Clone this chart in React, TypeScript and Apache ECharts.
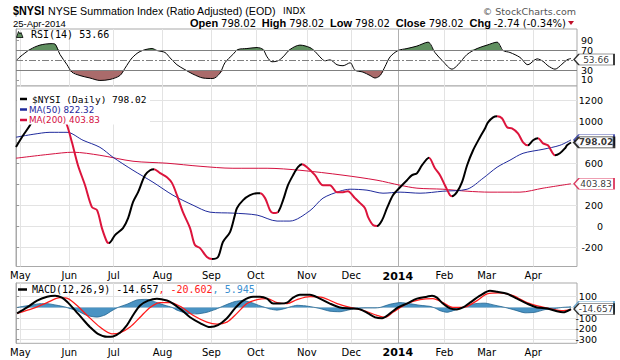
import React, { useEffect, useRef } from "react";
import * as echarts from "echarts";

// ---------- data (x = trading-day index from 29-Apr-2013) ----------
const monthDays = [2, 24, 44, 66, 88, 108, 131, 151, 172, 193, 212, 233];
const monthNames = ["May", "Jun", "Jul", "Aug", "Sep", "Oct", "Nov", "Dec", "2014", "Feb", "Mar", "Apr"];

const nysi: [number, number][] = [
  [0, 755], [3, 860], [6.3, 962], [8, 1040], [11, 1150], [15, 1250], [19, 1180], [23, 962], [25.2, 800],
  [27.9, 581], [31.1, 390], [34.2, 181], [36.5, 152], [38.7, -19], [41, -152], [41.9, -162], [44.6, -86],
  [48.2, -19], [50.5, 76], [52.7, 229], [55, 324], [58.1, 486], [60.4, 533], [62.2, 543], [64.9, 505],
  [68, 467], [70.3, 410], [72.5, 295], [75.2, 133], [78.4, -19], [80.6, -181], [82.9, -210], [86, -295],
  [88.3, -314], [91, -295], [93.2, -152], [96.4, -57], [98.6, 105], [99.5, 171], [102.3, 248], [105.4, 295],
  [108.6, 314], [109.9, 314], [112.2, 267], [114.4, 152], [115.8, 124], [118, 133], [120.3, 248],
  [122.5, 390], [124.8, 486], [127, 562], [128.8, 590], [131.1, 562], [134.7, 486], [138.3, 390],
  [141.4, 390], [144.6, 324], [147.3, 324], [149.5, 333], [152.7, 267], [155, 219], [157.2, 171],
  [158.6, 86], [160.8, 10], [162.6, 0], [164.9, 57], [167.1, 171], [169.8, 295], [173, 371], [176.1, 438],
  [178.4, 486], [180.6, 505], [182.9, 581], [186, 652], [188.7, 552], [191, 486], [193.2, 390],
  [195.5, 295], [196.4, 286], [198.6, 324], [200.9, 419], [203.2, 581], [205.9, 724], [209, 848],
  [211.3, 933], [212.6, 990], [214.9, 1038], [216.7, 1048], [218.9, 1029], [221.2, 943], [223.4, 933],
  [226.1, 886], [228.4, 800], [230.6, 771], [232.9, 819], [235.1, 838], [237.4, 790], [239.6, 771],
  [242.8, 676], [245, 695], [247.3, 743], [248.2, 771], [250, 798.02],
];
// day positions where the NYSI line changes direction (rising = black, falling = red)
const nysiTurns = [0, 17, 41.9, 62.2, 88.3, 109.9, 118, 128.8, 162.6, 186, 196.4, 216.7, 230.6, 235.1, 242.8, 260];

const ma50: [number, number][] = [
  [0, 848], [7.7, 876], [15.3, 895], [23, 895], [30.2, 819], [37.8, 752], [43.7, 657], [52.7, 533],
  [61.7, 419], [70.7, 295], [79.7, 200], [87.4, 133], [97.7, 124], [108.6, 105], [117.6, 48], [123.4, 48],
  [132.4, 147], [138.3, 267], [145.9, 333], [150.5, 352], [158.1, 343], [165.3, 314], [173, 324],
  [182, 314], [192.3, 333], [203.2, 352], [210.4, 457], [216.7, 562], [222.5, 629], [228.4, 695],
  [237.4, 733], [245, 771], [250, 822.32],
];

const ma200: [number, number][] = [
  [0, 648], [15.3, 686], [25.7, 705], [37.8, 676], [52.7, 619], [68, 600], [82.9, 571], [97.7, 552],
  [113.1, 552], [127.9, 533], [147.3, 486], [162.6, 438], [173, 390], [180.6, 362], [192.3, 352],
  [203.2, 333], [213.5, 324], [227, 324], [237.4, 362], [250, 403.83],
];

const rsi: [number, number][] = [
  [0.5, 51], [1.8, 57], [6.3, 72], [10.8, 81], [16.2, 84], [17.6, 83], [19.8, 62], [23, 41], [25.2, 26],
  [28.8, 19], [33.3, 14], [37.8, 9], [42.3, 11], [46.8, 19], [49.1, 34], [52.3, 55], [55.9, 68], [61.3, 74],
  [63.5, 70], [67.1, 66], [69.4, 55], [72.5, 41], [76.1, 31], [79.7, 22], [84.2, 14], [88.7, 13], [91.9, 24],
  [94.1, 45], [97.7, 62], [100, 72], [104, 74], [108.6, 76], [111.3, 72], [113.1, 57], [115.3, 47],
  [118, 49], [120.3, 57], [123.4, 72], [127.9, 81], [132.4, 76], [134.7, 68], [136.9, 57], [139.2, 49],
  [141.4, 51], [144.6, 41], [147.3, 39], [150.5, 45], [152.7, 30], [156.3, 26], [159.5, 19], [161.7, 14],
  [164, 19], [166.2, 37], [168.5, 57], [172.1, 70], [176.1, 74], [180.6, 79], [185.6, 87], [188.7, 66],
  [192.3, 48], [196.4, 32], [199.1, 41], [203.2, 62], [207.7, 74], [212.2, 81], [216.7, 87], [219.4, 70],
  [222.5, 66], [227, 56], [230.6, 41], [234.7, 53], [237.4, 48], [239.6, 39], [242.8, 32], [245.9, 42],
  [248.2, 51], [250, 53.66],
];

const macd: [number, number][] = [
  [0.5, -55], [5, 0], [9.5, 64], [14, 100], [17.6, 109], [20.7, 91], [23.4, 45], [26.6, -27], [29.7, -100],
  [33.3, -182], [36.9, -245], [41, -273], [43.7, -270], [46.8, -236], [50, -164], [52.7, -73], [55.9, 18],
  [59.5, 64], [63.5, 82], [68, 64], [70.7, 36], [74.8, -27], [78.4, -91], [82.9, -145], [87.4, -182],
  [91, -164], [95, -100], [98.6, -9], [102.3, 64], [106.8, 100], [109.9, 100], [113.1, 82], [115.8, 36],
  [118.9, 36], [122.1, 45], [124.8, 91], [127.9, 118], [132.4, 118], [136.9, 82], [141.4, 36], [145.9, 0],
  [150.5, -9], [155, -18], [158.6, -55], [161.7, -91], [164.9, -100], [168.5, -55], [172.1, 0], [176.1, 36],
  [180.6, 82], [185.1, 100], [187.4, 109], [189.6, 91], [192.3, 36], [195.5, -9], [198.6, -18], [201.4, 0],
  [204.5, 45], [209, 109], [213.5, 155], [216.7, 145], [221.2, 127], [225.7, 82], [230.2, 36], [234.7, 0],
  [239.2, -9], [243.7, -36], [246.4, -45], [250, -14.657],
];

const signal: [number, number][] = [
  [0.5, -55], [7.7, -9], [14, 45], [19.8, 91], [23.4, 82], [27.5, 18], [32, -73], [37.8, -182], [43.2, -245],
  [46.8, -236], [51.4, -182], [55.9, -91], [60.4, 0], [64.9, 45], [69.4, 45], [74.8, 0], [79.7, -73],
  [86, -136], [90.5, -155], [95, -136], [99.5, -55], [104, 36], [108.6, 73], [113.1, 82], [117.6, 45],
  [122.1, 36], [126.6, 73], [132.4, 100], [138.3, 91], [144.6, 36], [150.5, 0], [156.3, -27], [162.6, -73],
  [166.2, -91], [169.8, -45], [176.1, 36], [182, 73], [187.8, 82], [192.3, 45], [196.8, 0], [201.4, 0],
  [207.7, 64], [212.2, 127], [218, 136], [223.9, 109], [230.2, 45], [236, 9], [241.9, -18], [245.9, -30],
  [250, -20.602],
];

const hist: [number, number][] = [
  [0.5, 0], [1.8, 5], [7.7, 25], [10.8, 35], [14, 35], [18.5, 20], [22, 5], [24.3, -10], [27.5, -30], [32, -75],
  [36.5, -90], [40.1, -70], [43.2, -30], [45.9, 0], [50, 30], [54.5, 70], [59, 75], [63.5, 45], [67.1, 20],
  [70.3, 0], [72.5, -25], [77, -55], [81.5, -60], [86, -45], [89.6, -20], [91.9, 0], [94.1, 20], [98.6, 55],
  [102.3, 65], [106.8, 40], [109.9, 15], [112.2, 0], [114.4, -15], [117.6, -25], [121.2, -10], [123.4, 5],
  [126.6, 20], [130.2, 15], [133.3, 5], [136.9, -10], [141.4, -35], [145.9, -40], [150.5, -20], [153.6, -10],
  [157.2, -5], [161.7, -5], [164, 0], [168.5, 30], [173, 45], [177.5, 35], [182, 20], [186.5, 10],
  [188.7, -5], [191, -30], [194.1, -45], [197.7, -25], [200.9, 0], [202.3, 10], [206.8, 35], [211.3, 40],
  [215.8, 20], [220.3, 0], [224.8, -25], [229.3, -50], [233.8, -45], [238.3, -20], [242.8, -10],
  [245.9, 0], [250, 5.945],
];

const quote = { date: "25-Apr-2014", open: 798.02, high: 798.02, low: 798.02, close: 798.02, chg: -2.74, chgPct: -0.34 };

const rsiTicks = [10, 30, 50, 70, 90];
const rsiLabels = [10, 30, 70, 90];
const mainTicks = [-200, 0, 200, 400, 600, 800, 1000, 1200];
const mainLabels = [-200, 0, 200, 600, 1000, 1200];
const macdTicks = [-300, -200, -100, 0, 100];
const macdLabels = [-300, -200, -100, 100];

// ---------- styling ----------
const SANS = '"DejaVu Sans", Verdana, sans-serif';
const MONO = '"DejaVu Sans Mono", monospace';
const ARIAL = '"Liberation Sans", Arial, sans-serif';
const C_RED = "#dc143c";
const C_MA50 = "#1f2a9c";
const C_MA200 = "#d4103f";
const C_SIG = "#ff1a1a";
const C_HIST = "#4a93c3";
const GRID_C = "#e3e3e3";
const BORDER_C = "#a9a9a9";
const TAG = "path://M0,6 L5,0 L40,0 L40,12 L5,12 Z";

const last = (a: [number, number][]) => a[a.length - 1];

export default function App() {
  const ref = useRef<HTMLDivElement>(null);

  useEffect(() => {
    const chart = echarts.init(ref.current!, null, { renderer: "svg" });

    const X0 = 0, X1 = 252.7;
    const splitColors = monthDays.map((_, i) => (monthNames[i] === "2014" ? "#b0b0b0" : GRID_C));
    const grids = [
      { left: 16, top: 29, width: 561, height: 57 },
      { left: 16, top: 86, width: 561, height: 180.5 },
      { left: 16, top: 283, width: 561, height: 60.3 },
    ].map((g) => ({ ...g, show: true, borderColor: BORDER_C, borderWidth: 1, backgroundColor: "#fff" }));

    const xAxis = [0, 1, 2].map((i) => ({
      type: "value",
      gridIndex: i,
      min: X0,
      max: X1,
      axisLine: { show: false },
      axisTick: { show: false, customValues: monthDays },
      axisLabel: {
        show: i > 0,
        customValues: monthDays,
        margin: 4,
        color: "#000",
        fontFamily: SANS,
        fontSize: 10,
        formatter: (v: number) => {
          const n = monthNames[monthDays.indexOf(v)] ?? "";
          return n === "2014" ? "{b|2014}" : n;
        },
        rich: { b: { fontWeight: "bold", fontFamily: SANS, fontSize: 11, color: "#000" } },
      },
      splitLine: { show: true, lineStyle: { color: splitColors, width: 1 } },
    }));

    const yAxisBase = (i: number, min: number, max: number, ticks: number[], labels: number[], margin: number, split: boolean) => ({
      type: "value",
      gridIndex: i,
      position: "right",
      min,
      max,
      axisLine: { show: true, lineStyle: { color: BORDER_C } },
      axisTick: { show: true, length: 3, customValues: ticks, lineStyle: { color: "#999" } },
      axisLabel: {
        customValues: labels, align: "right", margin, color: "#000", fontFamily: SANS, fontSize: 9.5, lineHeight: 9,
        formatter: (v: number) => String(v),
      },
      splitLine: { show: split, lineStyle: { color: GRID_C } },
    });

    const yAxis = [
      yAxisBase(0, -2.3, 113.8, rsiTicks, rsiLabels, 16, false),
      yAxisBase(1, -385.5, 1337, mainTicks, mainLabels, 26, true),
      yAxisBase(2, -333.5, 227.4, macdTicks, macdLabels, 20, true),
    ];

    const lineBase = { type: "line", showSymbol: false, symbol: "none", silent: true, smooth: 0.3 };
    const hidden = { lineStyle: { opacity: 0, width: 0 } };

    const dec = (v: number) => (String(v).split(".")[1]?.length === 3 ? 3 : 2);
    const tag = (p: [number, number], border: string, showText = true, bold = false, bw = 1, dy = 0) => ({
      value: p,
      symbol: TAG,
      symbolSize: [40, 11],
      symbolOffset: [23, dy],
      itemStyle: { color: "#fff", borderColor: border, borderWidth: bw },
      label: {
        show: showText,
        position: "inside",
        offset: [2, 0],
        formatter: p[1].toFixed(dec(p[1])),
        color: "#000",
        fontFamily: SANS,
        fontSize: 9,
        lineHeight: 9,
        fontWeight: bold ? "bold" : "normal",
      },
    });

    const pieces = nysiTurns.slice(0, -1).map((t, i) => ({
      gte: t,
      lt: nysiTurns[i + 1],
      color: i % 2 === 0 ? "#000000" : C_RED,
    }));

    const NYSI_IDX = 5;
    const series: any[] = [
      // RSI fills: above 70 and below 30
      {
        ...lineBase, ...hidden, xAxisIndex: 0, yAxisIndex: 0,
        areaStyle: { color: "#5f8f5f", opacity: 1, origin: 70 },
        data: rsi.map(([d, v]) => [d, Math.max(v, 70)]),
      },
      {
        ...lineBase, ...hidden, xAxisIndex: 0, yAxisIndex: 0,
        areaStyle: { color: "#aa6b6b", opacity: 1, origin: 30 },
        data: rsi.map(([d, v]) => [d, Math.min(v, 30)]),
      },
      // RSI line
      {
        ...lineBase, xAxisIndex: 0, yAxisIndex: 0, data: rsi,
        lineStyle: { color: "#000", width: 1 },
        markLine: {
          silent: true, symbol: "none", label: { show: false },
          data: [
            { yAxis: 70, lineStyle: { color: "#808080", width: 1, type: "solid" } },
            { yAxis: 30, lineStyle: { color: "#808080", width: 1, type: "solid" } },
            { yAxis: 50, lineStyle: { color: "#808080", width: 1, type: [7, 2, 2, 2] } },
          ],
        },
        z: 3,
      },
      // main panel
      { ...lineBase, xAxisIndex: 1, yAxisIndex: 1, data: ma200, lineStyle: { color: C_MA200, width: 1 } },
      { ...lineBase, xAxisIndex: 1, yAxisIndex: 1, data: ma50, lineStyle: { color: C_MA50, width: 1 } },
      { ...lineBase, xAxisIndex: 1, yAxisIndex: 1, data: nysi, lineStyle: { width: 2 }, z: 4 },
      // MACD panel
      {
        ...lineBase, xAxisIndex: 2, yAxisIndex: 2, data: hist, smooth: 0.2,
        lineStyle: { color: "#21638f", width: 0.8 },
        areaStyle: { color: C_HIST, opacity: 1 },
      },
      { ...lineBase, xAxisIndex: 2, yAxisIndex: 2, data: signal, lineStyle: { color: C_SIG, width: 1.3 } },
      { ...lineBase, xAxisIndex: 2, yAxisIndex: 2, data: macd, lineStyle: { color: "#000", width: 2 } },
      // value tags
      {
        type: "scatter", xAxisIndex: 0, yAxisIndex: 0, clip: false, silent: true, z: 10,
        data: [tag(last(rsi), "#000", true, false, 1, 1)],
      },
      {
        type: "scatter", xAxisIndex: 1, yAxisIndex: 1, clip: false, silent: true, z: 10,
        data: [tag(last(ma50), C_MA50, false), tag(last(ma200), C_MA200), tag(last(nysi), "#000", true, true, 1.4)],
      },
      {
        type: "scatter", xAxisIndex: 2, yAxisIndex: 2, clip: false, silent: true, z: 10,
        data: [tag(last(hist), C_HIST, false), tag(last(macd), "#000")],
      },
    ];

    const f2 = (n: number) => n.toFixed(2);
    const headerRow =
      `{b|Open} {n|${f2(quote.open)}}  {b|High} {n|${f2(quote.high)}}  {b|Low} {n|${f2(quote.low)}}  ` +
      `{b|Close} {n|${f2(quote.close)}}  {b|Chg} {n|${f2(quote.chg)} (${f2(quote.chgPct)}%)}`;

    const graphic: any[] = [
      { type: "text", x: 13, y: 10.5, scaleX: 0.8, z: 100, style: { text: "$NYSI", font: `bold 13.5px ${ARIAL}`, fill: "#000", verticalAlign: "middle" } },
      { type: "text", x: 48, y: 10.5, z: 100, style: { text: "NYSE Summation Index (Ratio Adjusted) (EOD)", font: `10.7px ${ARIAL}`, fill: "#000", verticalAlign: "middle" } },
      { type: "text", x: 283, y: 10.5, z: 100, style: { text: "INDX", font: `9px ${SANS}`, fill: "#000", verticalAlign: "middle" } },
      { type: "text", x: 576, y: 11, z: 100, style: { text: "© StockCharts.com", font: `9.5px ${SANS}`, fill: "#555", align: "right", verticalAlign: "middle" } },
      { type: "text", x: 13, y: 23, z: 100, style: { text: quote.date, font: `9.5px ${ARIAL}`, fill: "#000", verticalAlign: "middle" } },
      {
        type: "text", x: 566, y: 23, z: 100,
        style: {
          text: headerRow, font: `10.5px ${ARIAL}`, fill: "#000", align: "right", verticalAlign: "middle",
          rich: { b: { font: `bold 11px ${ARIAL}`, fill: "#000" }, n: { font: `10px ${SANS}`, fill: "#000" } },
        },
      },
      { type: "polygon", z: 100, shape: { points: [[568, 21], [574, 21], [571, 25]] }, style: { fill: "#c0102a" } },
      // RSI legend
      { type: "polygon", z: 100, shape: { points: [[16.5, 37.5], [18.5, 31.5], [20, 34], [21, 32.5], [23, 37.5]] }, style: { fill: "#5f8f5f", stroke: "#000", lineWidth: 0.8 } },
      { type: "text", x: 31, y: 34.5, z: 100, style: { text: `RSI(14) ${f2(last(rsi)[1])}`, font: `10px ${MONO}`, fill: "#000", verticalAlign: "middle" } },
      // main legend
      { type: "rect", z: 90, shape: { x: 17, y: 87, width: 133, height: 37.5 }, style: { fill: "#fff" } },
      { type: "line", z: 100, shape: { x1: 20, y1: 99, x2: 27, y2: 99 }, style: { stroke: "#000", lineWidth: 2.5 } },
      { type: "text", x: 32, y: 99, z: 100, style: { text: `$NYSI (Daily) ${f2(last(nysi)[1])}`, font: `9.5px ${MONO}`, fill: "#000", verticalAlign: "middle" } },
      { type: "line", z: 100, shape: { x1: 20, y1: 109.5, x2: 27, y2: 109.5 }, style: { stroke: C_MA50, lineWidth: 2.5 } },
      { type: "text", x: 29, y: 109.5, z: 100, style: { text: `MA(50) ${f2(last(ma50)[1])}`, font: `8.8px ${SANS}`, fill: C_MA50, verticalAlign: "middle" } },
      { type: "line", z: 100, shape: { x1: 20, y1: 120, x2: 27, y2: 120 }, style: { stroke: C_MA200, lineWidth: 2.5 } },
      { type: "text", x: 29, y: 120, z: 100, style: { text: `MA(200) ${f2(last(ma200)[1])}`, font: `8.8px ${SANS}`, fill: C_MA200, verticalAlign: "middle" } },
      // MACD legend
      { type: "line", z: 100, shape: { x1: 18, y1: 289.5, x2: 27, y2: 289.5 }, style: { stroke: "#000", lineWidth: 2.5 } },
      {
        type: "text", x: 32, y: 289.5, z: 100,
        style: {
          text: `{k|MACD(12,26,9) ${last(macd)[1].toFixed(3)}}{r|, ${last(signal)[1].toFixed(3)}}{bl|, ${last(hist)[1].toFixed(3)}}`,
          font: `10px ${MONO}`, fill: "#000", verticalAlign: "middle",
          rich: {
            k: { font: `10px ${MONO}`, fill: "#000" },
            r: { font: `10px ${MONO}`, fill: C_SIG },
            bl: { font: `10px ${MONO}`, fill: "#3b8fd0" },
          },
        },
      },
    ];

    chart.setOption({
      animation: false,
      backgroundColor: "#fff",
      grid: grids,
      xAxis,
      yAxis,
      visualMap: [{ type: "piecewise", show: false, dimension: 0, seriesIndex: NYSI_IDX, pieces, outOfRange: { color: "#000" } }],
      series,
      graphic,
    });

    return () => chart.dispose();
  }, []);

  return <div ref={ref} style={{ position: "absolute", left: 0, top: 0, width: 620, height: 360, background: "#fff" }} />;
}
